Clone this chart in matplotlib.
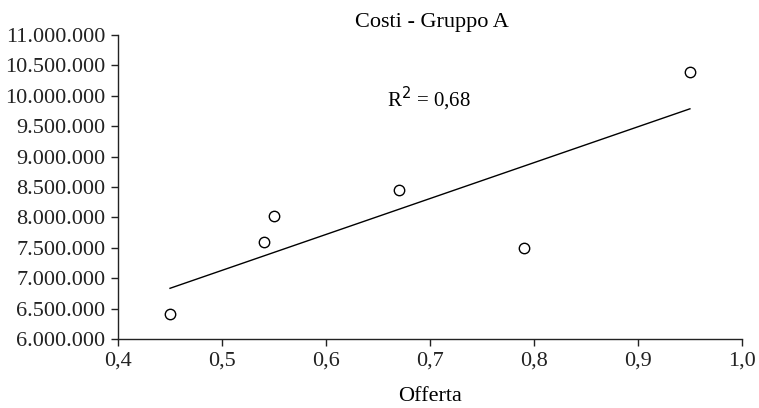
import matplotlib
matplotlib.use("Agg")
import matplotlib.pyplot as plt
import numpy as np
from matplotlib.ticker import FuncFormatter

offerta = [0.45, 0.54, 0.55, 0.67, 0.79, 0.95]
costi = [6420000, 7600000, 8020000, 8450000, 7500000, 10400000]
title = "Costi - Gruppo A"
xlabel = "Offerta"

plt.rcParams['font.family'] = ['Liberation Serif', 'DejaVu Serif']

fig = plt.figure(figsize=(7.59, 4.08), dpi=100)
ax = fig.add_axes([0.1555, 0.169, 0.822, 0.745])

x = np.array(offerta)
y = np.array(costi, dtype=float)
ax.plot(x, y, 'o', mfc='white', mec='black', mew=1.0, ms=7.5, zorder=3)
slope, intercept = np.polyfit(x, y, 1)
xs = np.array([x.min(), x.max()])
ax.plot(xs, slope * xs + intercept, color='black', lw=1.0)
pred = slope * x + intercept
r2 = 1 - np.sum((y - pred) ** 2) / np.sum((y - y.mean()) ** 2)

ax.text(0.699, 9.95e6, "R$^2$ = " + f"{r2:.2f}".replace('.', ','), ha='center', va='center', fontsize=15)

ax.set_xlim(0.4, 1.0)
ax.set_ylim(6e6, 11e6)
ax.set_xticks(np.arange(0.4, 1.01, 0.1))
ax.set_yticks(np.arange(6e6, 11.01e6, 5e5))
ax.xaxis.set_major_formatter(FuncFormatter(lambda v, p: f"{v:.1f}".replace('.', ',')))
ax.yaxis.set_major_formatter(FuncFormatter(lambda v, p: f"{int(round(v)):,}".replace(',', '.')))
ax.tick_params(labelsize=16, length=5, width=1, direction='out', colors='#222222', pad=4)
for s in ['top', 'right']:
    ax.spines[s].set_visible(False)
for s in ['left', 'bottom']:
    ax.spines[s].set_linewidth(1.0)
    ax.spines[s].set_color('#222222')

ax.set_title(title, fontsize=16, x=0.503, pad=6)
ax.set_xlabel(xlabel, fontsize=16, labelpad=12)

fig.savefig("out.png", dpi=100)
